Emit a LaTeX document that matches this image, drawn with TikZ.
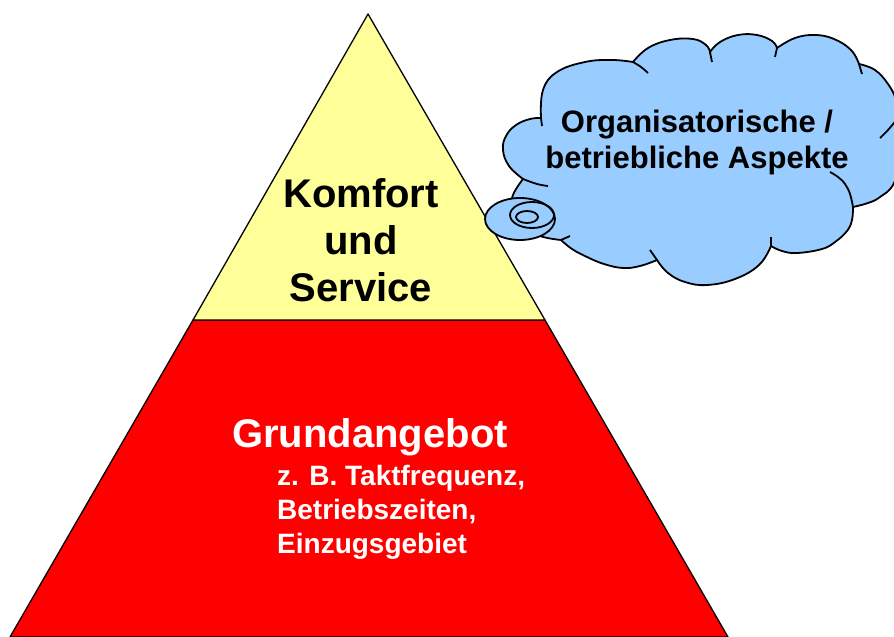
\documentclass[tikz,border=0pt]{standalone}
\usepackage{fontspec}
\setmainfont{Liberation Sans}

\definecolor{spitzengelb}{HTML}{FFFF99}
\definecolor{basisrot}{HTML}{FF0000}
\definecolor{wolkenblau}{HTML}{99CCFF}

\tikzset{
  ebene/.style={draw=black, line width=1.3pt, line join=round},
  wolkenrand/.style={draw=black, line width=1.8pt, smooth, tension=.7},
  gross/.style={font=\bfseries\fontsize{40}{47}\selectfont, inner sep=0pt},
}

\begin{document}
\begin{tikzpicture}[x=1pt, y=-1pt]
\useasboundingbox (0,0) rectangle (894,637);

% Pyramide
\coordinate (spitze) at (368,14);
\coordinate (ml) at (193,320);
\coordinate (mr) at (545,320);
\coordinate (ul) at (10,637);
\coordinate (ur) at (728,637);
\draw[ebene, fill=basisrot] (ml) -- (mr) -- (ur) -- (ul) -- cycle;
\draw[ebene, fill=spitzengelb] (spitze) -- (mr) -- (ml) -- cycle;

% Gedankenwolke, Bausch fuer Bausch im Uhrzeigersinn
\filldraw[wolkenrand, fill=wolkenblau]
  plot coordinates {(523,179) (509,166) (503,150) (506,136) (516,125) (530,119) (541,118)}
  -- plot coordinates {(541,118) (543,90) (557,72) (585,62) (612,60) (633,62)}
  -- plot coordinates {(633,62) (648,48) (670,40) (693,39) (706,45) (710,52)}
  -- plot coordinates {(710,52) (720,42) (738,35) (757,35) (772,41) (777,48)}
  -- plot coordinates {(777,48) (795,38) (815,35) (834,39) (851,50) (859,64)}
  -- plot coordinates {(859,64) (875,70) (888,84) (896,100) (898,118)}
  -- plot coordinates {(898,118) (903,150) (894,183) (880,197) (868,203) (853,207)}
  -- plot coordinates {(853,207) (852,220) (847,231) (835,242) (822,249) (797,253) (782,251) (771,246)}
  -- plot coordinates {(771,246) (759,265) (735,279) (707,285) (685,282) (668,273) (657,260)}
  -- plot coordinates {(657,260) (640,266) (623,268) (604,264) (587,257) (572,249) (561,240)}
  -- plot coordinates {(561,240) (540,236) (522,226) (512,210) (513,195) (523,179)}
  -- cycle;
% Enden der Baeusche im Inneren
\draw[wolkenrand] plot coordinates {(541,118) (542,126)};
\draw[wolkenrand] plot coordinates {(633,62) (641,67) (648,73)};
\draw[wolkenrand] plot coordinates {(710,52) (712,62)};
\draw[wolkenrand] plot coordinates {(777,48) (775,57)};
\draw[wolkenrand] plot coordinates {(859,64) (862,74)};
\draw[wolkenrand] plot coordinates {(898,118) (888,130) (880,138)};
\draw[wolkenrand] plot coordinates {(853,207) (850,194) (845,184) (838,177) (830,172)};
\draw[wolkenrand] plot coordinates {(771,246) (771,237)};
\draw[wolkenrand] plot coordinates {(657,260) (650,250)};
\draw[wolkenrand] plot coordinates {(561,240) (570,236)};
\draw[wolkenrand] plot coordinates {(523,179) (537,184) (548,186)};

% Gedankenblase
\draw[wolkenrand, fill=wolkenblau] (520,219) ellipse [x radius=35, y radius=21];
\draw[wolkenrand] (532,215) ellipse [x radius=22, y radius=13];
\draw[wolkenrand] (527,217) ellipse [x radius=11, y radius=6];

\node[gross, align=center] (komfort) at (361,240) {Komfort\\und\\Service};
\node[gross, text=white, anchor=base west] (grund) at (232,447) {Grundangebot};
\node[font=\bfseries\fontsize{28}{34}\selectfont, text=white, align=left,
  inner sep=0pt, anchor=north west] (beispiele) at (277,465)
  {z. B. Taktfrequenz,\\Betriebszeiten,\\Einzugsgebiet};
\node[font=\bfseries\fontsize{31}{36}\selectfont, align=center, inner sep=0pt]
  (aspekte) at (697,142) {Organisatorische /\\betriebliche Aspekte};
\end{tikzpicture}
\end{document}
